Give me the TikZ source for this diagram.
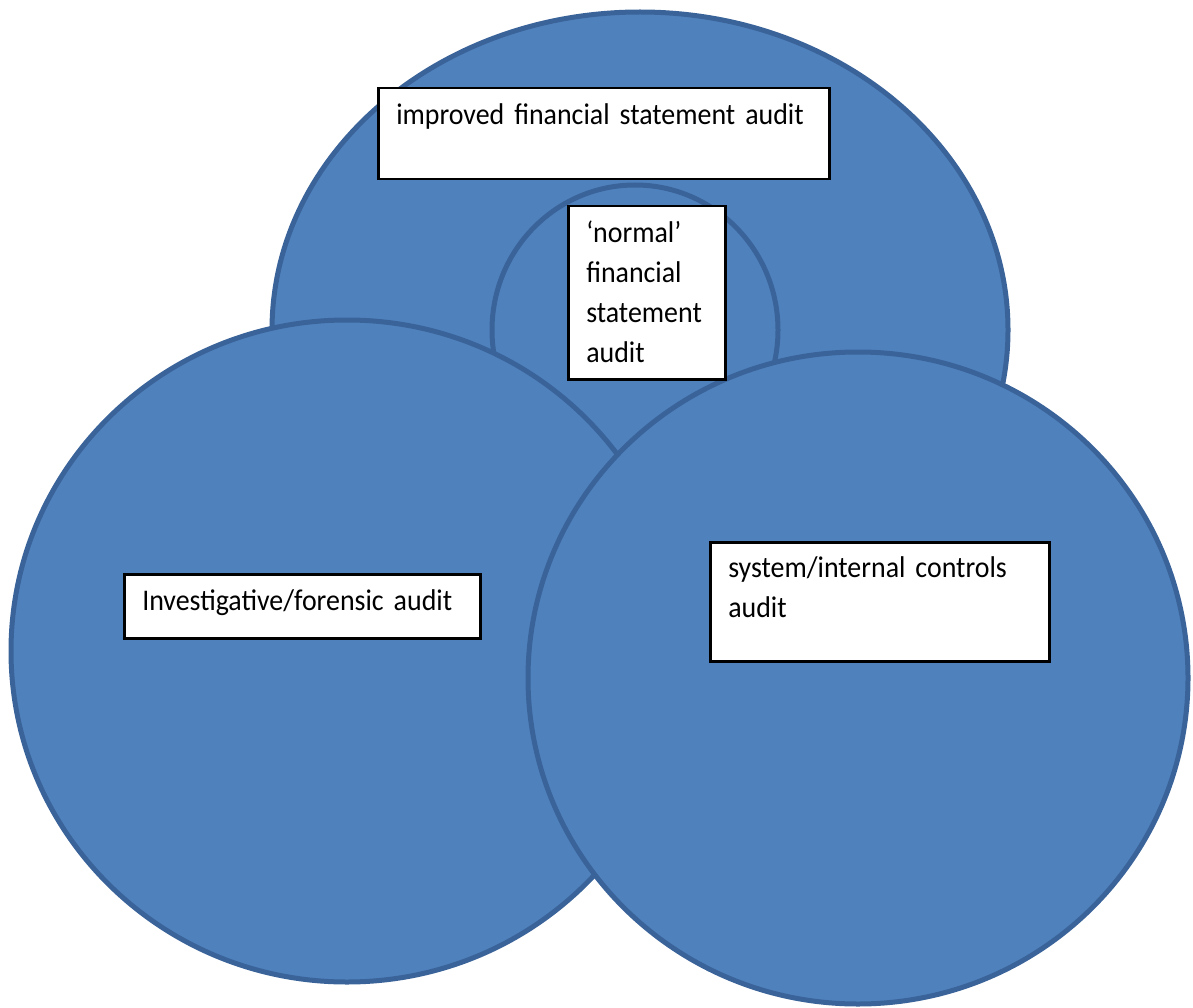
\documentclass[tikz,border=0pt]{standalone}
\usepackage{fontspec}
\setmainfont{Carlito}[FakeStretch=0.93]
\usetikzlibrary{shapes.geometric,positioning}

\definecolor{discfill}{HTML}{4F81BD}
\definecolor{discline}{HTML}{3A6399}

\begin{document}
\begin{tikzpicture}[x=1pt,y=-1pt,
    disc/.style={ellipse,draw=discline,fill=discfill,line width=5pt,inner sep=0pt},
    tag/.style={rectangle,draw=black,fill=white,line width=2.5pt,anchor=north west,
      align=left,inner xsep=18pt,inner ysep=0pt,text height=36pt,
      font=\fontsize{30}{40}\selectfont}]
        \useasboundingbox (0,0) rectangle (1193,1008);
        \node[disc,minimum width=736pt,minimum height=636pt] (improved) at (640,330) {};
        \node[disc,minimum width=286pt,minimum height=290pt] (normal) at (635,330) {};
        \node[disc,minimum width=672pt,minimum height=662pt] (forensic) at (347,651) {};
        \node[disc,minimum width=660pt,minimum height=652pt] (controls) at (858,678) {};
        \node[tag,text width=415pt,text depth=55pt] (improved text) at (377,87)
                {improved financial statement audit};
        \node[tag,text width=121pt,text depth=137pt] (normal text) at (567,205)
                {‘normal’\\financial\\statement\\audit};
        \node[tag,text width=320pt,text depth=28pt] (forensic text) at (123,573)
                {Investigative/forensic audit};
        \node[tag,text width=303pt,text height=35pt,text depth=84pt] (controls text) at (709,541)
                {system/internal controls\\audit};
\end{tikzpicture}
\end{document}
